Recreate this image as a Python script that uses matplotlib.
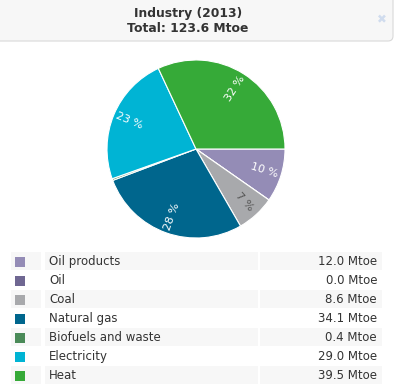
import matplotlib
matplotlib.use("Agg")
import matplotlib.pyplot as plt
from matplotlib.patches import Rectangle, FancyBboxPatch
import math

title_line1 = "Industry (2013)"
title_line2 = "Total: 123.6 Mtoe"
categories = ["Oil products", "Oil", "Coal", "Natural gas", "Biofuels and waste", "Electricity", "Heat"]
values = [12.0, 0.0, 8.6, 34.1, 0.4, 29.0, 39.5]
colors = ["#948cb6", "#6f6792", "#a8a9ac", "#00668d", "#4a8a58", "#00b4d4", "#36aa38"]
unit = "Mtoe"

W, H = 396, 384
DPI = 100
fig = plt.figure(figsize=(W / DPI, H / DPI), dpi=DPI)
fig.patch.set_facecolor("white")

# background axes in pixel coordinates
bg = fig.add_axes([0, 0, 1, 1])
bg.set_xlim(0, W)
bg.set_ylim(H, 0)
bg.axis("off")

# header
hdr = FancyBboxPatch((-10, -10), 403, 51, boxstyle="round,pad=0,rounding_size=5",
                     facecolor="#f7f7f7", edgecolor="#d9d9d9", linewidth=0.8)
bg.add_patch(hdr)
bg.text(188, 13, title_line1, ha="center", va="center", fontsize=8.9,
        fontweight="bold", color="#333333", family="DejaVu Sans")
bg.text(188, 28, title_line2, ha="center", va="center", fontsize=8.9,
        fontweight="bold", color="#333333", family="DejaVu Sans")
bg.text(382, 20, "\u2716", ha="center", va="center", fontsize=8.5, color="#d0dcee",
        family="DejaVu Sans")

# legend table
row_top = 252
row_h = 19
for i, (cat, val, col) in enumerate(zip(categories, values, colors)):
    y0 = row_top + i * row_h
    if i % 2 == 0:
        for x0, x1 in [(11, 41), (45, 258), (260, 382)]:
            bg.add_patch(Rectangle((x0, y0), x1 - x0, 18, facecolor="#f7f7f7",
                                   edgecolor="none"))
    yc = y0 + 9
    bg.add_patch(Rectangle((15, yc - 4.5), 10, 10, facecolor=col, edgecolor="none"))
    bg.text(49, yc + 0.5, cat, ha="left", va="center", fontsize=8.5, color="#333333")
    bg.text(377, yc + 0.5, f"{val:.1f} {unit}", ha="right", va="center", fontsize=8.5,
            color="#333333")

# pie
cx, cy, r = 196, 149, 89
ax = fig.add_axes([(cx - r) / W, (H - cy - r) / H, 2 * r / W, 2 * r / H])
wedges, _ = ax.pie(values, colors=colors, startangle=0, counterclock=False, radius=1,
                   wedgeprops=dict(edgecolor="white", linewidth=0.8))
ax.set_xlim(-1, 1)
ax.set_ylim(-1, 1)
ax.set_aspect("auto")
ax.axis("off")
total = sum(values)
for w, v in zip(wedges, values):
    pct = v / total * 100
    if pct < 3:
        continue
    mid = (w.theta1 + w.theta2) / 2
    rad = math.radians(mid)
    x, y = 0.81 * math.cos(rad), 0.81 * math.sin(rad)
    rot = mid
    while rot > 90:
        rot -= 180
    while rot < -90:
        rot += 180
    fc = w.get_facecolor()
    tc = "#555555" if fc[0] > 0.6 and fc[1] > 0.6 and fc[2] < 0.7 else "#ffffff"
    ax.text(x, y, f"{pct:.0f} %", ha="center", va="center", rotation=rot,
            rotation_mode="anchor", fontsize=8, color=tc)

fig.savefig("out.png", dpi=DPI)
